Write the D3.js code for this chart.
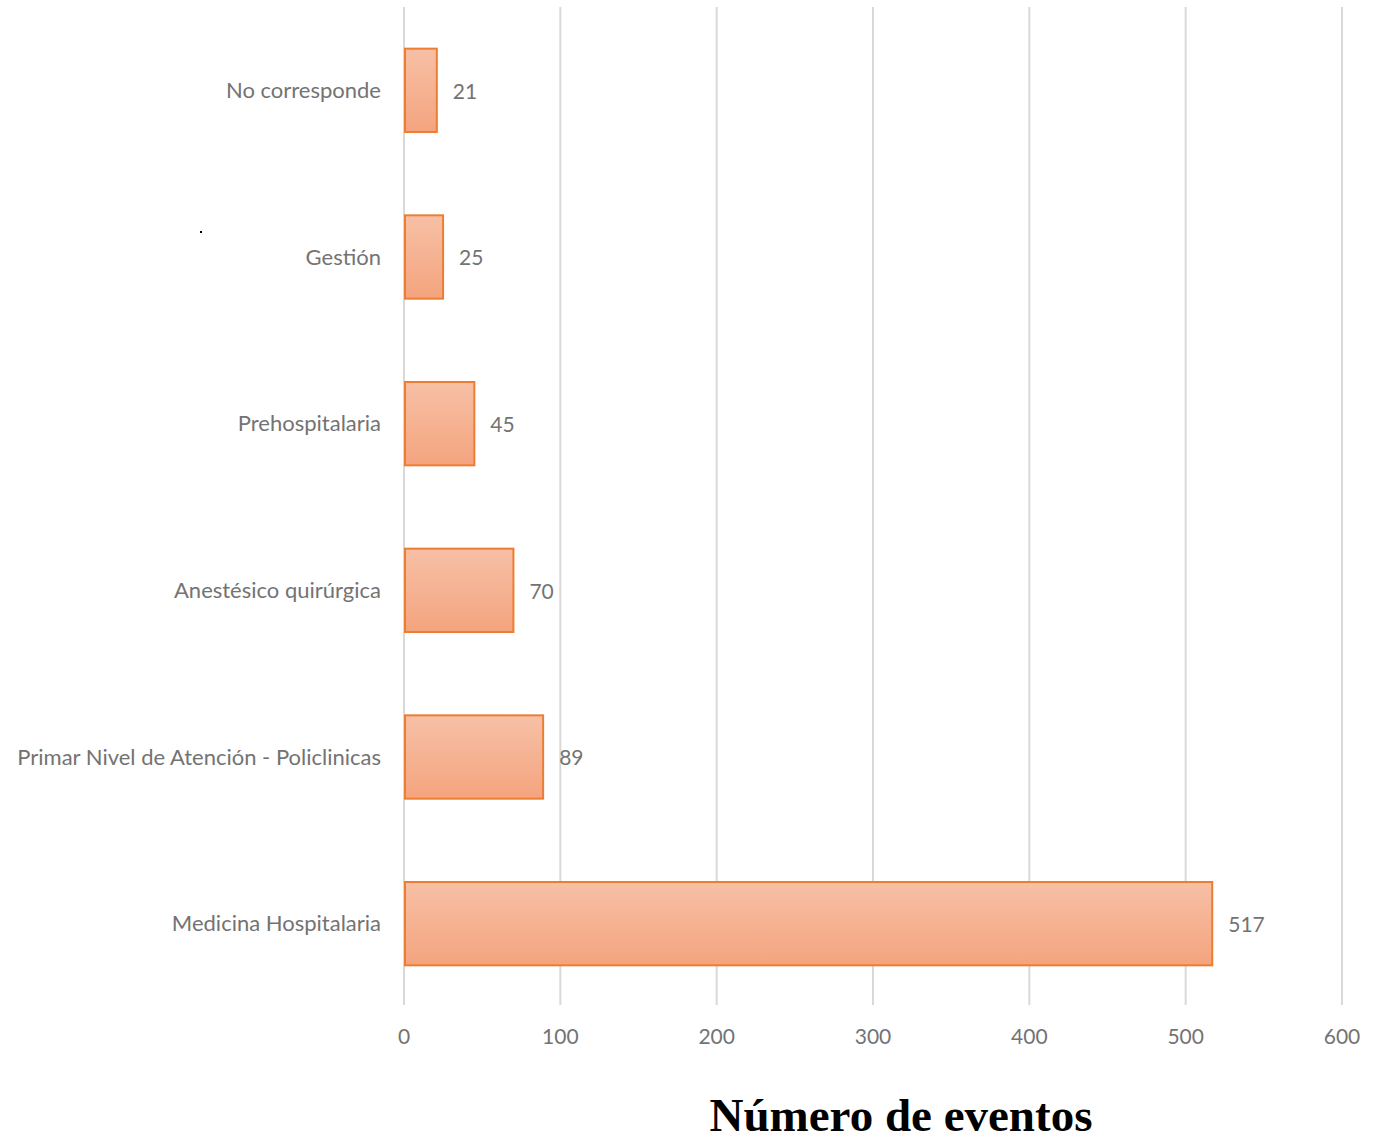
<!DOCTYPE html>
<html><head><meta charset="utf-8">
<script src="https://cdn.jsdelivr.net/npm/d3@7"></script>
<style>body{margin:0;background:#fff;} svg{display:block;}</style>
</head><body>
<svg id="chart" width="1373" height="1142"></svg>
<script>
const categories = ["No corresponde","Gestión","Prehospitalaria","Anestésico quirúrgica","Primar Nivel de Atención - Policlinicas","Medicina Hospitalaria"];
const values = [21,25,45,70,89,517];
const ticks = [0,100,200,300,400,500,600];
const xTitle = "Número de eventos";

const svg = d3.select("#chart");
const x = d3.scaleLinear().domain([0,600]).range([404,1342]);
const y = d3.scaleBand().domain(categories).range([7,1007]).paddingInner(0.5).paddingOuter(0.25);
const font = "Lato, 'Open Sans', sans-serif";

const defs = svg.append("defs");
const g = defs.append("linearGradient").attr("id","bg").attr("x1",0).attr("y1",0).attr("x2",0).attr("y2",1);
g.append("stop").attr("offset","0%").attr("stop-color","#f7c0a6");
g.append("stop").attr("offset","100%").attr("stop-color","#f4a47e");

// gridlines
svg.append("g").selectAll("line").data(ticks).join("line")
  .attr("x1",d=>x(d)).attr("x2",d=>x(d)).attr("y1",7).attr("y2",1005)
  .attr("stroke","#d9d9d9").attr("stroke-width",2);

// bars
svg.append("g").selectAll("rect").data(values).join("rect")
  .attr("x",x(0)+1).attr("y",(d,i)=>y(categories[i]))
  .attr("width",d=>x(d)-x(0)-1).attr("height",y.bandwidth())
  .attr("fill","url(#bg)").attr("stroke","#ed7d31").attr("stroke-width",2);

// value labels
svg.append("g").selectAll("text").data(values).join("text")
  .attr("x",d=>x(d)+16).attr("y",(d,i)=>y(categories[i])+y.bandwidth()/2+1)
  .attr("dy","0.35em").attr("font-family",font).attr("font-size",21)
  .attr("fill","#737373").text(d=>d);

// category labels
svg.append("g").selectAll("text").data(categories).join("text")
  .attr("x",381).attr("y",d=>y(d)+y.bandwidth()/2)
  .attr("dy","0.35em").attr("text-anchor","end")
  .attr("font-family",font).attr("font-size",22)
  .attr("fill","#737373").text(d=>d);

// x tick labels
svg.append("g").selectAll("text").data(ticks).join("text")
  .attr("x",d=>x(d)).attr("y",1037).attr("dy","0.35em").attr("text-anchor","middle")
  .attr("font-family",font).attr("font-size",21)
  .attr("fill","#737373").text(d=>d);

// title
svg.append("text").attr("x",901).attr("y",1131).attr("text-anchor","middle")
  .attr("font-family","'Liberation Serif','Times New Roman',serif").attr("font-weight","bold")
  .attr("font-size",47).attr("fill","#000").text(xTitle);

// stray dot
svg.append("rect").attr("x",200).attr("y",231).attr("width",2).attr("height",2).attr("fill","#000");
</script>
</body></html>
